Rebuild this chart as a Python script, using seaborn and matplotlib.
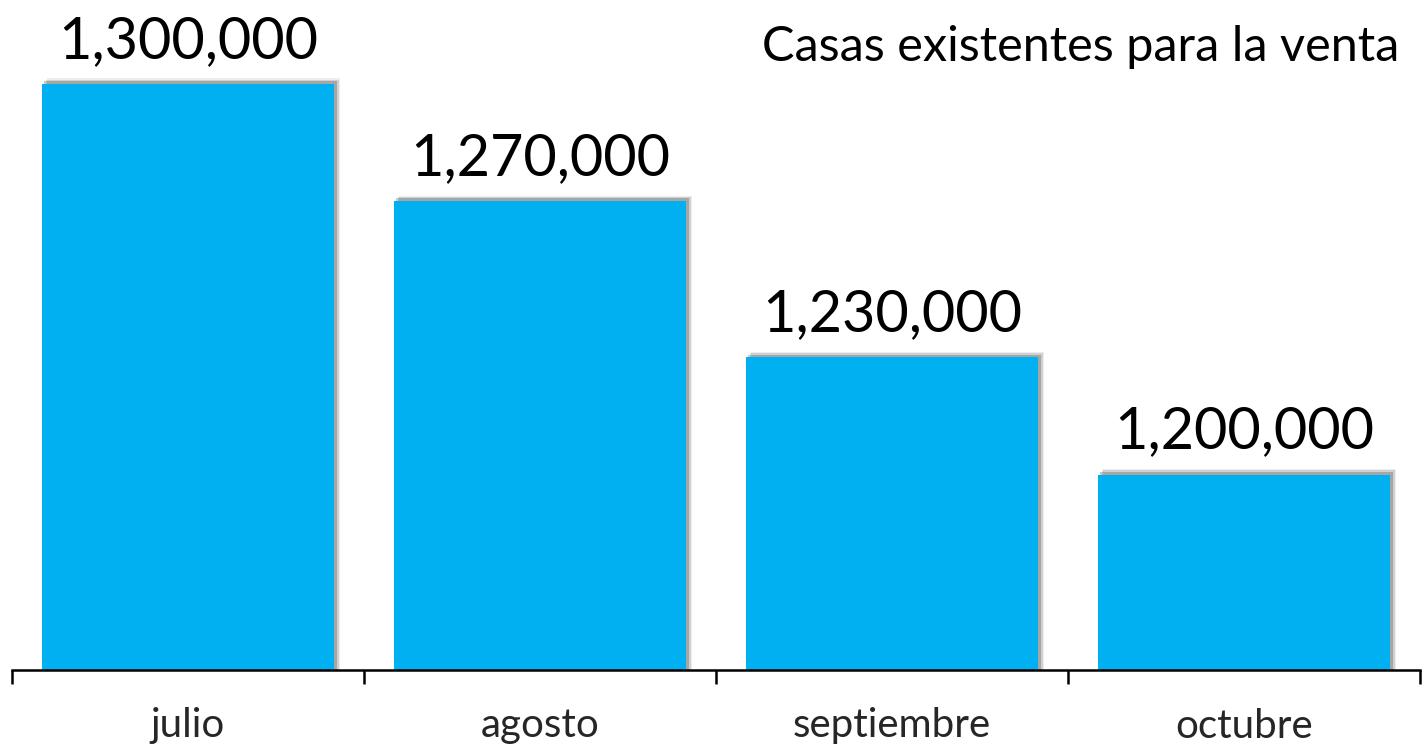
import matplotlib
matplotlib.use("Agg")
import matplotlib.pyplot as plt
import matplotlib.patheffects as pe
import seaborn as sns
import pandas as pd

categories = ["julio", "agosto", "septiembre", "octubre"]
values = [1300000, 1270000, 1230000, 1200000]
value_labels = ["1,300,000", "1,270,000", "1,230,000", "1,200,000"]
title = "Casas existentes para la venta"

sns.set_style("white")
plt.rcParams["font.family"] = ["Lato", "DejaVu Sans"]

df = pd.DataFrame({"mes": categories, "valor": values})

fig = plt.figure(figsize=(14.28, 7.48), dpi=100)
ax = fig.add_axes([12/1428, 78/748, 1408/1428, 670/748])

sns.barplot(data=df, x="mes", y="valor", color="#00B0F0", saturation=1,
            width=0.832, ax=ax, order=categories)

for p in ax.patches:
    p.set_path_effects([
        pe.SimplePatchShadow(offset=(4.0, 4.0), shadow_rgbFace="#000000", alpha=0.07),
        pe.SimplePatchShadow(offset=(3.0, 3.0), shadow_rgbFace="#000000", alpha=0.12),
        pe.SimplePatchShadow(offset=(2.0, 2.0), shadow_rgbFace="#000000", alpha=0.2),
        pe.Normal(),
    ])
    p.set_edgecolor("none")

ax.set_ylim(1150000, 1321500)
ax.set_xlim(-0.5, 3.5)

for i, (v, lab) in enumerate(zip(values, value_labels)):
    ax.annotate(lab, xy=(i, v), xytext=(0, 19), textcoords="offset points",
                ha="center", va="baseline", fontsize=41.5, color="black")

ax.text(0.985, 0.909, title, transform=ax.transAxes, ha="right", va="baseline",
        fontsize=35, color="black")

for s in ["top", "right", "left"]:
    ax.spines[s].set_visible(False)
ax.spines["bottom"].set_linewidth(1.8)
ax.spines["bottom"].set_color("black")

ax.set_yticks([])
ax.set_xticks([-0.5, 0.5, 1.5, 2.5, 3.5])
ax.set_xticklabels([])
ax.tick_params(axis="x", which="major", length=10, width=1.8, direction="out", color="black", bottom=True)
ax.set_xticks([0, 1, 2, 3], minor=True)
ax.set_xticklabels(categories, minor=True, fontsize=29)
ax.tick_params(axis="x", which="minor", length=0, pad=27)
ax.set_xlabel("")
ax.set_ylabel("")

fig.savefig("out.png", dpi=100)
